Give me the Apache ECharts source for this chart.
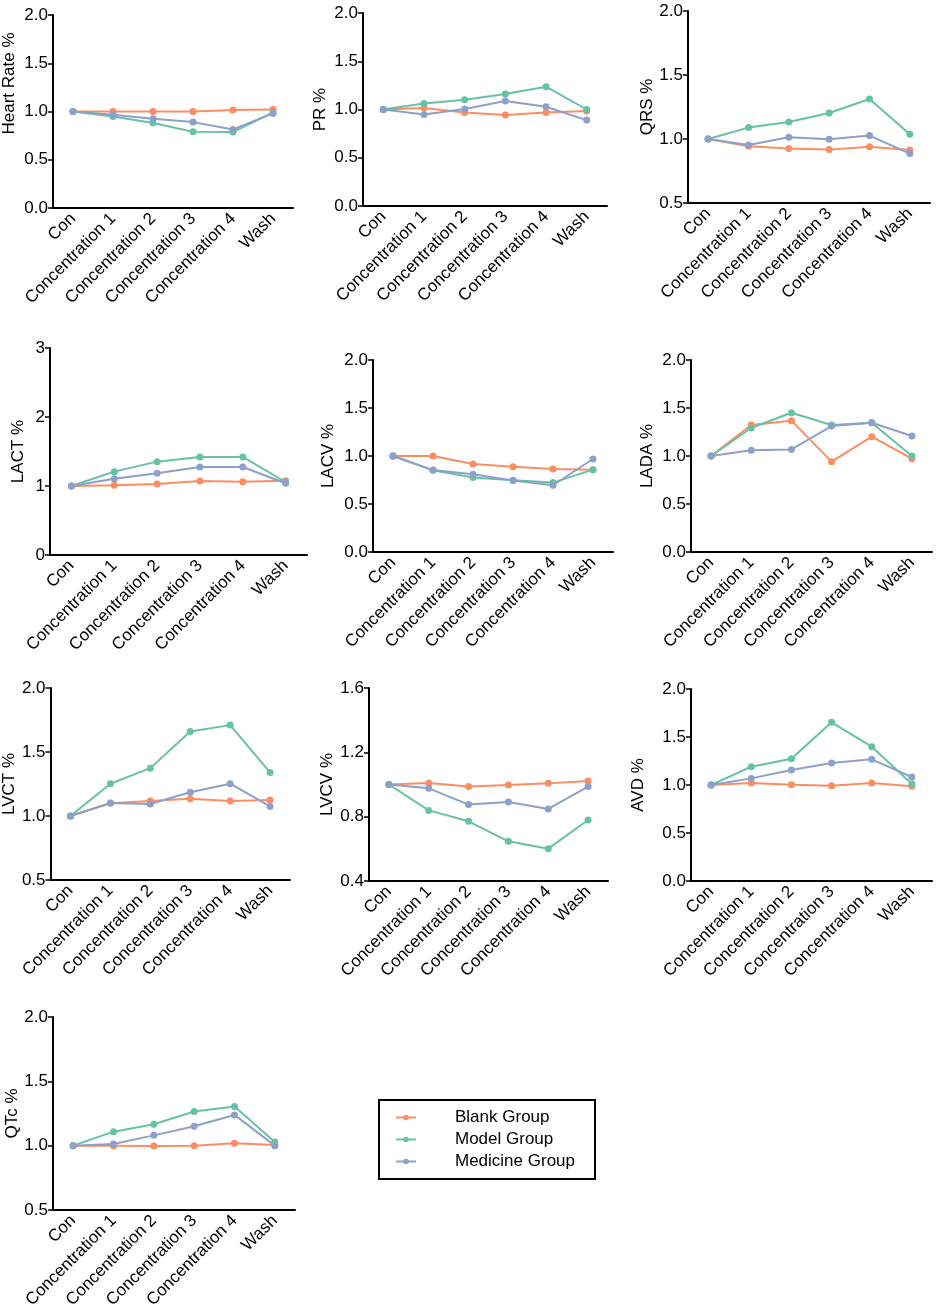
<!DOCTYPE html>
<html lang="en">
<head>
<meta charset="UTF-8">
<title>ECG parameters</title>
<style>
    html, body { margin: 0; padding: 0; background: #fff; }
    #box { width: 941px; height: 1312px; }
</style>
</head>
<body>
<div id="box"></div>
<script src="https://cdn.jsdelivr.net/npm/echarts@6/dist/echarts.min.js"></script>
<script>
// categories and groups
var categories = ['Con', 'Concentration 1', 'Concentration 2', 'Concentration 3', 'Concentration 4', 'Wash'];
var groups = ['Blank Group', 'Model Group', 'Medicine Group'];

// values per panel: [blank, model, medicine]
var heartRate = [
    [1.00, 1.00, 1.00, 1.00, 1.015, 1.02],
    [1.00, 0.948, 0.88, 0.79, 0.787, 0.99],
    [1.00, 0.967, 0.924, 0.89, 0.814, 0.98]
];
var pr = [
    [1.00, 1.015, 0.97, 0.942, 0.97, 0.985],
    [1.00, 1.062, 1.10, 1.16, 1.236, 1.00],
    [1.00, 0.948, 1.005, 1.087, 1.028, 0.89]
];
var qrs = [
    [1.00, 0.943, 0.925, 0.917, 0.94, 0.914],
    [1.00, 1.089, 1.133, 1.203, 1.312, 1.037],
    [1.00, 0.953, 1.013, 0.998, 1.027, 0.886]
];
var lact = [
    [1.00, 1.01, 1.029, 1.073, 1.063, 1.077],
    [1.00, 1.208, 1.353, 1.42, 1.422, 1.058],
    [1.00, 1.106, 1.184, 1.276, 1.276, 1.039]
];
var lacv = [
    [1.00, 1.00, 0.917, 0.889, 0.865, 0.858],
    [1.00, 0.851, 0.775, 0.747, 0.723, 0.858],
    [1.00, 0.853, 0.81, 0.744, 0.695, 0.969]
];
var lada = [
    [1.00, 1.323, 1.368, 0.941, 1.201, 0.972],
    [1.00, 1.292, 1.451, 1.323, 1.347, 1.00],
    [1.00, 1.059, 1.069, 1.312, 1.347, 1.208]
];
var lvct = [
    [1.00, 1.10, 1.117, 1.135, 1.117, 1.125],
    [1.00, 1.252, 1.374, 1.66, 1.71, 1.34],
    [1.00, 1.101, 1.094, 1.185, 1.252, 1.075]
];
var lvcv = [
    [1.00, 1.009, 0.987, 0.997, 1.007, 1.022],
    [1.00, 0.839, 0.771, 0.647, 0.601, 0.779],
    [1.00, 0.976, 0.875, 0.891, 0.848, 0.987]
];
var avd = [
    [1.00, 1.021, 1.003, 0.993, 1.021, 0.986],
    [1.00, 1.191, 1.274, 1.653, 1.399, 1.01],
    [1.00, 1.069, 1.156, 1.229, 1.267, 1.083]
];
var qtc = [
    [1.00, 1.00, 0.998, 1.00, 1.018, 1.005],
    [1.00, 1.109, 1.166, 1.265, 1.304, 1.029],
    [1.00, 1.013, 1.08, 1.151, 1.239, 1.00]
];

// y axis ranges (min, max, interval) and titles
var yTitles = ['Heart Rate %', 'PR %', 'QRS %', 'LACT %', 'LACV %', 'LADA %', 'LVCT %', 'LVCV %', 'AVD %', 'QTc %'];
var yMin = [0, 0, 0.5, 0, 0, 0, 0.5, 0.4, 0, 0.5];
var yMax = [2, 2, 2, 3, 2, 2, 2, 1.6, 2, 2];
var yStep = [0.5, 0.5, 0.5, 1, 0.5, 0.5, 0.5, 0.4, 0.5, 0.5];
var yDigits = [1, 1, 1, 0, 1, 1, 1, 1, 1, 1];

var panels = [heartRate, pr, qrs, lact, lacv, lada, lvct, lvcv, avd, qtc];

// grid boxes
var boxes = [
    [52, 15, 241, 193], [363, 13, 244, 193], [688, 11, 242, 192],
    [50, 348, 257, 207], [373, 360, 240, 192], [691, 360, 241, 192],
    [49, 688, 241, 192], [369, 688, 239, 193], [691, 689, 241, 192],
    [53, 1017, 242, 193]
];
var nameGaps = [35, 34, 31, 23, 36, 35, 30, 33, 44, 27];
// the heart rate title sits above the middle in the original
var namePad = [[0, 0, 0, 56], 0, 0, 0, 0, 0, 0, 0, 0, 0];

var colors = ['#fc8d62', '#66c2a5', '#8da0cb'];
var font = 'Liberation Sans, Arial, sans-serif';

var myChart = echarts.init(document.getElementById('box'));

var grid = [], xAxis = [], yAxis = [], series = [];
panels.forEach(function (panel, i) {
    var b = boxes[i];
    grid.push({ left: b[0], top: b[1], width: b[2], height: b[3] });
    xAxis.push({
        type: 'category',
        gridIndex: i,
        data: categories,
        boundaryGap: true,
        axisLine: { lineStyle: { color: '#000', width: 2 } },
        axisTick: { alignWithLabel: true, length: 6, lineStyle: { color: '#000', width: 1.5 } },
        axisLabel: { rotate: 45, interval: 0, color: '#000', fontSize: 17, fontFamily: font, margin: 8 }
    });
    yAxis.push({
        type: 'value',
        gridIndex: i,
        min: yMin[i],
        max: yMax[i],
        interval: yStep[i],
        name: yTitles[i],
        nameLocation: 'middle',
        nameGap: nameGaps[i],
        nameTextStyle: { color: '#000', fontSize: 17, fontFamily: font, padding: namePad[i] },
        axisLine: { show: true, lineStyle: { color: '#000', width: 2 } },
        axisTick: { show: true, length: 5, lineStyle: { color: '#000', width: 1.5 } },
        axisLabel: {
            color: '#000', fontSize: 17, fontFamily: font, margin: 5,
            formatter: function (v) { return v.toFixed(yDigits[i]); }
        },
        splitLine: { show: false }
    });
    panel.forEach(function (vals, g) {
        series.push({
            name: groups[g],
            type: 'line',
            xAxisIndex: i,
            yAxisIndex: i,
            data: vals,
            symbol: 'circle',
            symbolSize: 7,
            lineStyle: { width: 2, color: colors[g] },
            itemStyle: { color: colors[g] }
        });
    });
});

var option = {
    animation: false,
    color: colors,
    grid: grid,
    xAxis: xAxis,
    yAxis: yAxis,
    legend: {
        data: groups,
        orient: 'vertical',
        left: 379,
        top: 1100,
        itemWidth: 20,
        itemHeight: 7,
        itemGap: 5,
        padding: [9, 20, 9, 16],
        borderColor: '#000',
        borderWidth: 2,
        textStyle: { color: '#000', fontSize: 17, fontFamily: font, padding: [0, 0, 0, 34] }
    },
    series: series
};
myChart.setOption(option);

window.addEventListener('resize', function () {
    myChart.resize();
});
</script>
</body>
</html>
